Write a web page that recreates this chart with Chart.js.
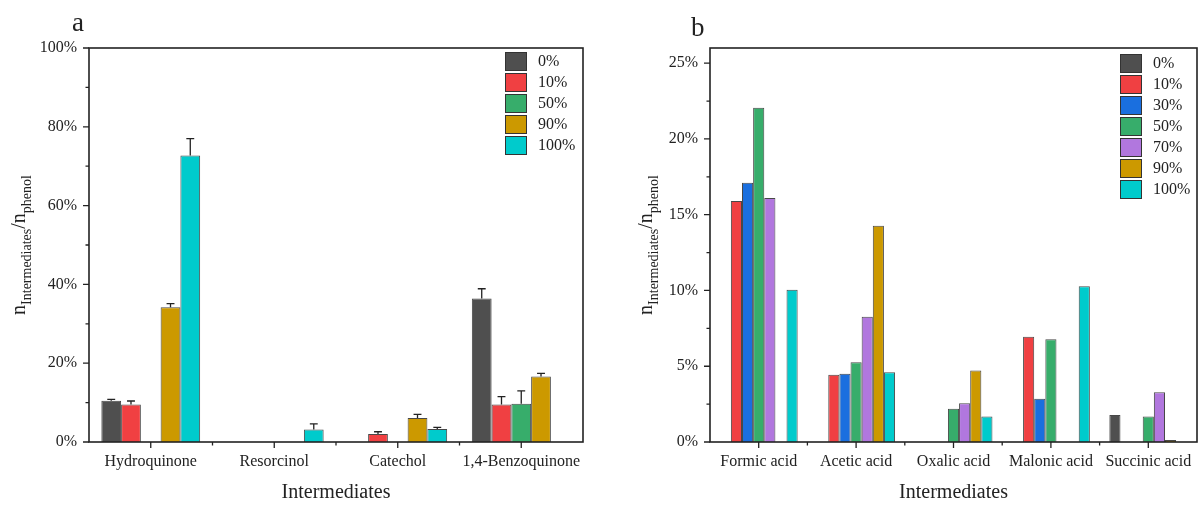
<!DOCTYPE html>
<html>
<head>
<meta charset="utf-8">
<script src="https://cdn.jsdelivr.net/npm/chart.js@4.4.1/dist/chart.umd.min.js"></script>
<style>
  html, body { margin: 0; padding: 0; background: #fff; }
  #wrap { position: relative; width: 1198px; height: 505px; }
  .panel { position: absolute; top: 0; width: 599px; height: 505px; }
</style>
</head>
<body>
<div id="wrap">
  <div class="panel" style="left:0"><canvas id="chartA" width="599" height="505"></canvas></div>
  <div class="panel" style="left:599px"><canvas id="chartB" width="599" height="505"></canvas></div>
</div>
<script>
// ---- data: panel a (aromatic intermediates, %) ----
const catsA = ['Hydroquinone', 'Resorcinol', 'Catechol', '1,4-Benzoquinone'];
const seriesA = ['0%', '10%', '50%', '90%', '100%'];
const valsA_0   = [10.5, null, null, 36.4];
const valsA_10  = [9.5,  null, 2.0,  9.5];
const valsA_50  = [null, null, null, 9.7];
const valsA_90  = [34.2, null, 6.1,  16.6];
const valsA_100 = [72.7, 3.2,  3.3,  null];
const errA_0    = [0.3, 0, 0, 2.5];
const errA_10   = [0.9, 0, 0.6, 2.0];
const errA_50   = [0, 0, 0, 3.3];
const errA_90   = [0.9, 0, 0.9, 0.8];
const errA_100  = [4.3, 1.4, 0.4, 0];
const yTicksA = [0, 20, 40, 60, 80, 100];

// ---- data: panel b (carboxylic acids, %) ----
const catsB = ['Formic acid', 'Acetic acid', 'Oxalic acid', 'Malonic acid', 'Succinic acid'];
const seriesB = ['0%', '10%', '30%', '50%', '70%', '90%', '100%'];
const valsB_0   = [null, null, null, null, 1.78];
const valsB_10  = [15.9, 4.43, null, 6.94, null];
const valsB_30  = [17.1, 4.5,  null, 2.85, null];
const valsB_50  = [22.06, 5.27, 2.2, 6.78, 1.69];
const valsB_70  = [16.1, 8.27, 2.55, null, 3.29];
const valsB_90  = [null, 14.27, 4.72, null, 0.13];
const valsB_100 = [10.05, 4.6, 1.69, 10.27, null];
const yTicksB = [0, 5, 10, 15, 20, 25];

// Origin-like palette
const colors = {
  '0%': '#4f4f4f', '10%': '#f04042', '30%': '#1a6fdf', '50%': '#37ad6b',
  '70%': '#b177de', '90%': '#cc9900', '100%': '#00cbcc'
};

const SERIF = '"Liberation Serif", "Times New Roman", serif';
const INK = '#222';

// error bars, frame, minor ticks, legend, y title, panel letter
const panelDecor = {
  id: 'panelDecor',
  afterDatasetsDraw(chart) {
    const ctx = chart.ctx, ys = chart.scales.y;
    ctx.save();
    ctx.strokeStyle = INK;
    ctx.lineWidth = 1.3;
    chart.data.datasets.forEach((ds, i) => {
      if (!ds.errors) return;
      const meta = chart.getDatasetMeta(i);
      ds.data.forEach((v, j) => {
        const e = ds.errors[j];
        if (v == null || !e) return;
        const bar = meta.data[j];
        const y0 = ys.getPixelForValue(v), y1 = ys.getPixelForValue(v + e);
        const cap = bar.width * 0.2;
        ctx.beginPath();
        ctx.moveTo(bar.x, y0); ctx.lineTo(bar.x, y1);
        ctx.moveTo(bar.x - cap, y1); ctx.lineTo(bar.x + cap, y1);
        ctx.stroke();
      });
    });
    ctx.restore();
  },
  afterDraw(chart, args, opts) {
    const ctx = chart.ctx, a = chart.chartArea;
    const xs = chart.scales.x, ys = chart.scales.y;
    ctx.save();
    ctx.strokeStyle = INK;
    ctx.lineWidth = 1.6;
    ctx.strokeRect(a.left, a.top, a.right - a.left, a.bottom - a.top);

    // y ticks (major + minor, outward)
    ctx.lineWidth = 1.3;
    const yt = opts.yTicks;
    ctx.beginPath();
    yt.forEach((v, k) => {
      const p = ys.getPixelForValue(v);
      ctx.moveTo(a.left, p); ctx.lineTo(a.left - 6, p);
      if (k < yt.length - 1) {
        const m = ys.getPixelForValue((v + yt[k + 1]) / 2);
        ctx.moveTo(a.left, m); ctx.lineTo(a.left - 3.5, m);
      }
    });
    // x ticks: major at centres, minor at boundaries
    const n = chart.data.labels.length;
    for (let i = 0; i < n; i++) {
      const p = xs.getPixelForValue(i);
      ctx.moveTo(p, a.bottom); ctx.lineTo(p, a.bottom + 6);
      if (i < n - 1) {
        const m = (p + xs.getPixelForValue(i + 1)) / 2;
        ctx.moveTo(m, a.bottom); ctx.lineTo(m, a.bottom + 3.5);
      }
    }
    ctx.stroke();

    // legend
    const lg = opts.legend;
    ctx.font = '16px ' + SERIF;
    ctx.textBaseline = 'middle';
    ctx.textAlign = 'left';
    chart.data.datasets.forEach((ds, i) => {
      const top = lg.y + i * 21;
      ctx.fillStyle = ds.backgroundColor;
      ctx.fillRect(lg.x, top, 22, 19);
      ctx.strokeStyle = '#333';
      ctx.lineWidth = 1;
      ctx.strokeRect(lg.x + 0.5, top + 0.5, 21, 18);
      ctx.fillStyle = INK;
      ctx.fillText(ds.label, lg.x + 33, top + 10);
    });

    // y title with subscripts
    const cy = (a.top + a.bottom) / 2;
    ctx.translate(opts.yTitleX, cy);
    ctx.rotate(-Math.PI / 2);
    const parts = [['n', 20, 0], ['Intermediates', 14, 6], ['/n', 20, 0], ['phenol', 14, 6]];
    let total = 0;
    parts.forEach(p => { ctx.font = p[1] + 'px ' + SERIF; total += ctx.measureText(p[0]).width; });
    let x = -total / 2;
    ctx.textBaseline = 'alphabetic';
    ctx.fillStyle = INK;
    parts.forEach(p => {
      ctx.font = p[1] + 'px ' + SERIF;
      ctx.fillText(p[0], x, p[2]);
      x += ctx.measureText(p[0]).width;
    });
    ctx.setTransform(1, 0, 0, 1, 0, 0);

    // panel letter
    ctx.font = '27px ' + SERIF;
    ctx.fillStyle = INK;
    ctx.textAlign = 'left';
    ctx.textBaseline = 'alphabetic';
    ctx.fillText(opts.letter, opts.letterX, opts.letterY);
    ctx.restore();
  }
};

function makeDatasets(names, vals, errs) {
  return names.map((name, i) => ({
    label: name,
    data: vals[i],
    errors: errs ? errs[i] : null,
    backgroundColor: colors[name],
    borderColor: 'rgba(40,40,40,0.85)',
    borderWidth: 1,
    borderSkipped: 'start',
    barPercentage: 1.0,
    categoryPercentage: 0.8
  }));
}

function makeChart(id, labels, datasets, yMax, yTicks, layout, decor) {
  return new Chart(document.getElementById(id), {
    type: 'bar',
    data: { labels: labels, datasets: datasets },
    options: {
      responsive: false,
      animation: false,
      layout: { padding: layout.padding },
      plugins: { legend: { display: false }, tooltip: { enabled: false }, panelDecor: decor },
      scales: {
        x: {
          offset: true,
          grid: { display: false, drawTicks: false },
          border: { display: false },
          ticks: { color: INK, font: { family: SERIF, size: 16 }, padding: 10, maxRotation: 0, autoSkip: false },
          title: { display: true, text: 'Intermediates', color: INK, font: { family: SERIF, size: 20 }, padding: 0 },
          afterFit(s) { s.height = 63; s.paddingLeft = 0; s.paddingRight = 0; }
        },
        y: {
          min: 0,
          max: yMax,
          grid: { display: false, drawTicks: false },
          border: { display: false },
          ticks: { color: INK, font: { family: SERIF, size: 16 }, padding: 12, callback: v => v + '%' },
          afterBuildTicks(s) { s.ticks = yTicks.map(v => ({ value: v })); },
          afterFit(s) { s.width = layout.yWidth; s.paddingTop = 0; s.paddingBottom = 0; }
        }
      }
    },
    plugins: [panelDecor]
  });
}

makeChart('chartA', catsA,
  makeDatasets(seriesA,
    [valsA_0, valsA_10, valsA_50, valsA_90, valsA_100],
    [errA_0, errA_10, errA_50, errA_90, errA_100]),
  100, yTicksA,
  { padding: { left: 0, right: 16, top: 48, bottom: 0 }, yWidth: 89 },
  { yTicks: yTicksA, legend: { x: 505, y: 52 }, yTitleX: 25, letter: 'a', letterX: 72, letterY: 31 });

makeChart('chartB', catsB,
  makeDatasets(seriesB,
    [valsB_0, valsB_10, valsB_30, valsB_50, valsB_70, valsB_90, valsB_100]),
  26, yTicksB,
  { padding: { left: 0, right: 1, top: 48, bottom: 0 }, yWidth: 111 },
  { yTicks: yTicksB, legend: { x: 521, y: 54 }, yTitleX: 53, letter: 'b', letterX: 92, letterY: 36 });
</script>
</body>
</html>
